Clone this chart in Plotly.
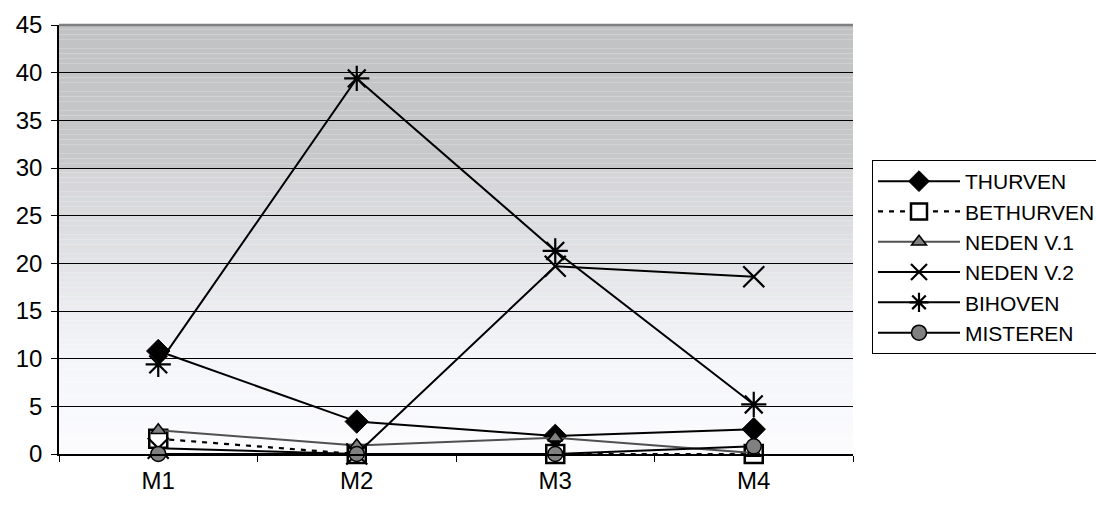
import plotly.graph_objects as go

# Monthly measurements per site
months = ["M1", "M2", "M3", "M4"]
thurven = [10.8, 3.4, 1.9, 2.6]
bethurven = [1.6, 0.0, 0.0, 0.0]
neden_v1 = [2.5, 0.9, 1.7, 0.1]
neden_v2 = [0.6, 0.0, 19.7, 18.6]
bihoven = [9.4, 39.4, 21.3, 5.2]
misteren = [0.0, 0.0, 0.0, 0.8]

y_ticks = [0, 5, 10, 15, 20, 25, 30, 35, 40, 45]

FONT = "Liberation Sans, Arial, sans-serif"

fig = go.Figure()

series = [
    dict(name="THURVEN", y=thurven, line=dict(color="black", width=2, dash="solid"),
         marker=dict(symbol="diamond", size=18, color="black", line=dict(color="black", width=1))),
    dict(name="BETHURVEN", y=bethurven, line=dict(color="black", width=2.2, dash="5px,6px"),
         marker=dict(symbol="square", size=18, color="white", line=dict(color="black", width=2.5))),
    dict(name="NEDEN V.1", y=neden_v1, line=dict(color="#505050", width=2, dash="solid"),
         marker=dict(symbol="triangle-up", size=13, color="#808080", line=dict(color="black", width=1.5))),
    dict(name="NEDEN V.2", y=neden_v2, line=dict(color="black", width=2, dash="solid"),
         marker=dict(symbol="x-thin-open", size=21, color="black", line=dict(color="black", width=2.2))),
    dict(name="BIHOVEN", y=bihoven, line=dict(color="black", width=2, dash="solid"),
         marker=dict(symbol="asterisk-open", size=21, color="black", line=dict(color="black", width=2.2))),
    dict(name="MISTEREN", y=misteren, line=dict(color="black", width=2, dash="solid"),
         marker=dict(symbol="circle", size=15, color="#808080", line=dict(color="black", width=1.5))),
]

for s in series:
    fig.add_trace(go.Scatter(
        x=months, y=s["y"], name=s["name"], mode="lines+markers",
        line=s["line"], marker=s["marker"], legendgroup=s["name"],
        cliponaxis=False,
    ))

# Vertical gray-to-white gradient behind the plot area
stops = [
    (0.0, (252, 252, 255)),
    (10.0, (244, 245, 248)),
    (15.0, (236, 237, 240)),
    (20.0, (226, 227, 230)),
    (29.9, (212, 212, 215)),
    (30.0, (200, 201, 203)),
    (45.0, (193, 194, 196)),
]


def grad(v):
    for (a, ca), (b, cb) in zip(stops, stops[1:]):
        if a <= v <= b:
            t = (v - a) / (b - a) if b > a else 0
            return tuple(round(ca[i] + (cb[i] - ca[i]) * t) for i in range(3))
    return stops[-1][1]


shapes = []
n_bands = 90
for i in range(n_bands):
    y0 = 45 * i / n_bands
    y1 = 45 * (i + 1) / n_bands
    c = grad((y0 + y1) / 2)
    shapes.append(dict(type="rect", xref="paper", yref="y", x0=0, x1=1, y0=y0, y1=y1,
                       fillcolor=f"rgb{c}", line=dict(width=0), layer="below"))
# gray top border of the plot area
shapes.append(dict(type="line", xref="paper", yref="paper", x0=0, x1=1, y0=1, y1=1,
                   line=dict(color="#808080", width=2.5), layer="above"))

W, H = 1096, 506

fig.update_layout(
    width=W, height=H,
    margin=dict(l=59, r=243, t=25, b=52),
    paper_bgcolor="white",
    plot_bgcolor="rgba(0,0,0,0)",
    font=dict(family=FONT, color="black"),
    shapes=shapes,
    showlegend=True,
    legend=dict(
        xref="container", yref="container",
        x=872 / W, y=(H - 160) / H, xanchor="left", yanchor="top",
        bgcolor="white", bordercolor="black", borderwidth=1,
        font=dict(family=FONT, size=21, color="black"),
        itemwidth=82, traceorder="grouped", tracegroupgap=0,
    ),
    xaxis=dict(
        type="category", categoryorder="array", categoryarray=months,
        range=[-0.5, 3.5], showgrid=False, zeroline=False,
        showline=True, linecolor="black", linewidth=1.5,
        ticks="outside", tickson="boundaries", ticklen=6, tickcolor="black",
        tickfont=dict(family=FONT, size=24, color="black"),
        ticklabelstandoff=4,
    ),
    yaxis=dict(
        range=[0, 45], tickvals=y_ticks, ticktext=[str(v) for v in y_ticks],
        showgrid=True, gridcolor="black", gridwidth=1, zeroline=False,
        showline=True, linecolor="black", linewidth=1.5,
        ticks="outside", ticklen=6, tickcolor="black",
        tickfont=dict(family=FONT, size=24, color="black"),
        ticklabelstandoff=4,
    ),
)

fig.write_html("out.html")
